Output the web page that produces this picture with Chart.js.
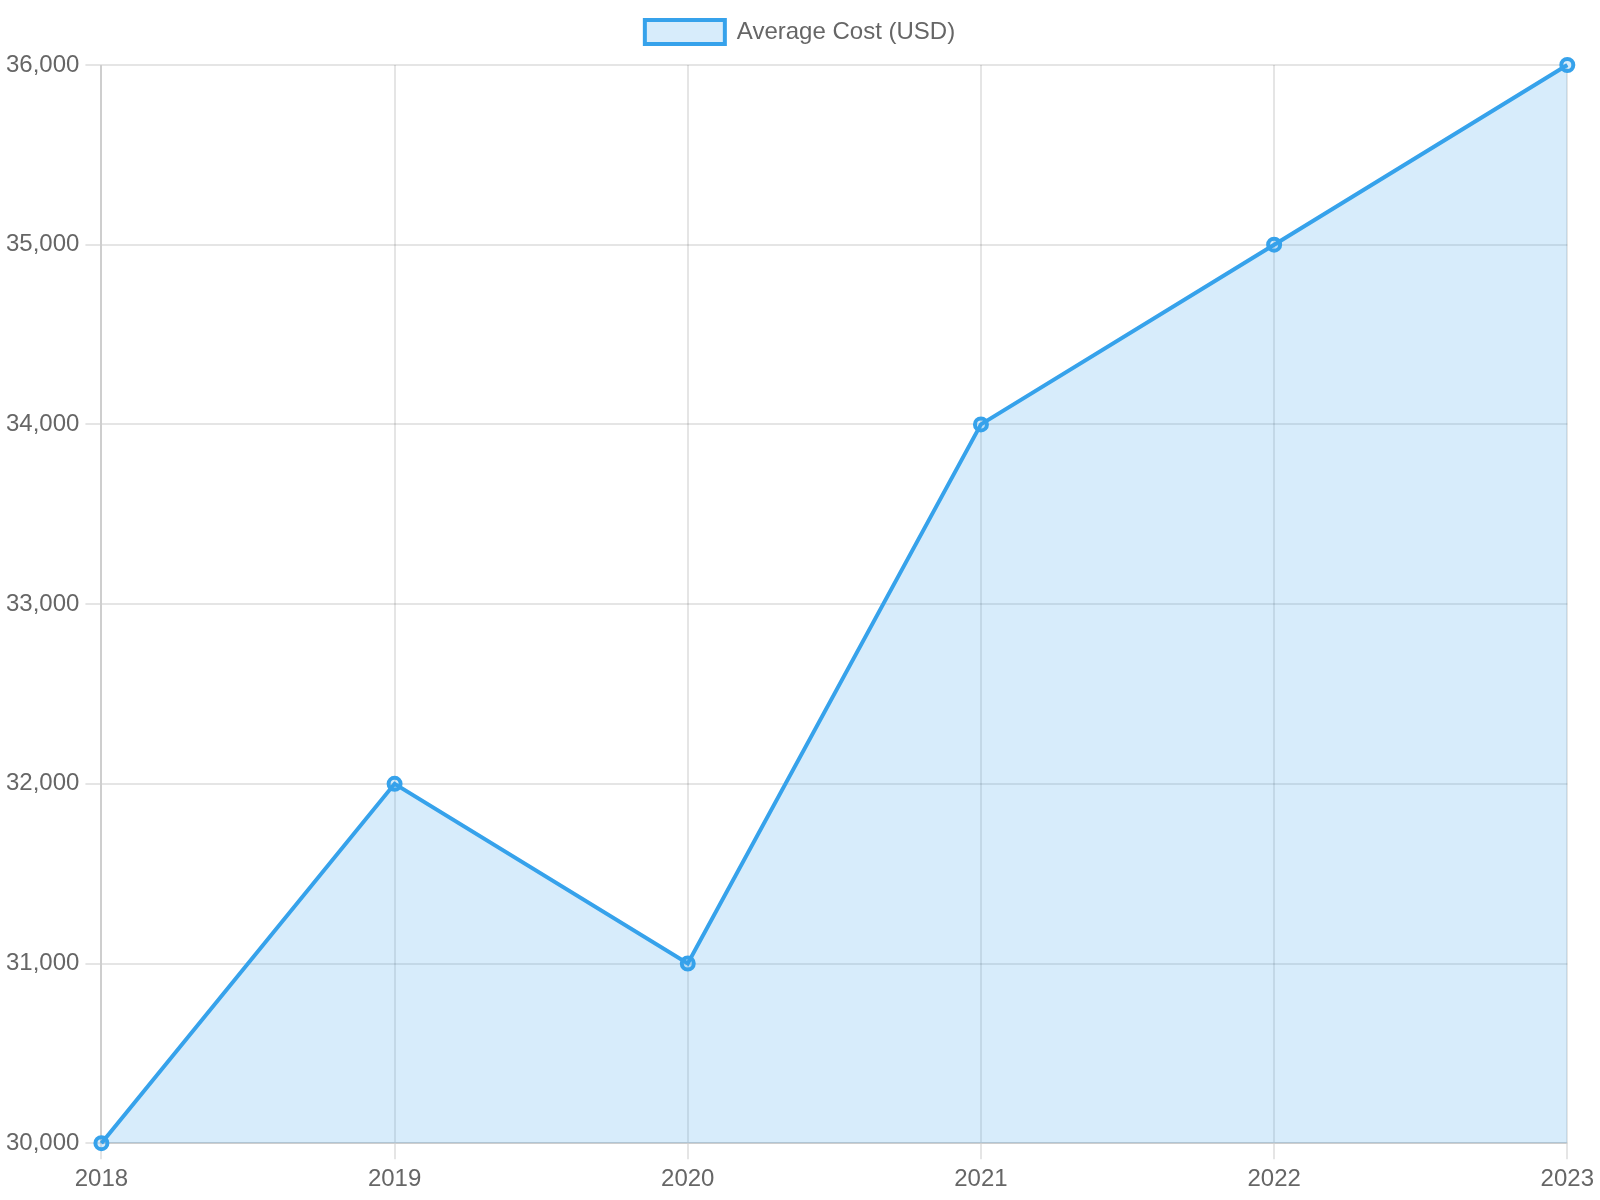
<!DOCTYPE html>
<html>
<head>
<meta charset="utf-8">
<script src="https://cdn.jsdelivr.net/npm/chart.js@4/dist/chart.umd.min.js"></script>
<style>
  html, body { margin: 0; padding: 0; background: #fff; }
  #wrap { width: 1600px; height: 1200px; }
</style>
</head>
<body>
<div id="wrap"><canvas id="cost-chart" width="1600" height="1200"></canvas></div>
<script>
const years = ['2018', '2019', '2020', '2021', '2022', '2023'];
const averageCost = [30000, 32000, 31000, 34000, 35000, 36000];
const seriesLabel = 'Average Cost (USD)';

Chart.defaults.font.family = '"Liberation Sans", Arial, Helvetica, sans-serif';
Chart.defaults.font.size = 24;
Chart.defaults.color = '#666';

// a little extra room below the legend
const legendSpacer = {
    id: 'legendSpacer',
    beforeInit(chart) {
        const origFit = chart.legend.fit;
        chart.legend.fit = function() {
            origFit.bind(chart.legend)();
            this.height += 11;
        };
    }
};

const ctx = document.getElementById('cost-chart').getContext('2d');
new Chart(ctx, {
    type: 'line',
    data: {
        labels: years,
        datasets: [{
            label: seriesLabel,
            data: averageCost,
            fill: true,
            clip: false,
            backgroundColor: 'rgba(54, 162, 235, 0.2)',
            borderColor: 'rgba(54, 162, 235, 1)',
            borderWidth: 4,
            pointRadius: 6,
            pointBorderWidth: 4,
            pointBackgroundColor: 'rgba(54, 162, 235, 0.2)',
            tension: 0
        }]
    },
    options: {
        responsive: false,
        animation: false,
        plugins: {
            legend: {
                display: true,
                position: 'top',
                labels: { boxWidth: 80, boxHeight: 24, padding: 20 }
            },
            tooltip: { enabled: false }
        },
        scales: {
            x: {
                grid: { color: 'rgba(0,0,0,0.1)', lineWidth: 2, tickLength: 16 },
                border: { width: 2 },
                ticks: { maxRotation: 0, padding: 6 }
            },
            y: {
                min: 30000,
                max: 36000,
                grid: { color: 'rgba(0,0,0,0.1)', lineWidth: 2, tickLength: 16 },
                border: { width: 2 },
                ticks: {
                    stepSize: 1000,
                    padding: 6,
                    callback: function(value) {
                        return value.toLocaleString('en-US');
                    }
                }
            }
        }
    },
    plugins: [legendSpacer]
});
</script>
</body>
</html>
